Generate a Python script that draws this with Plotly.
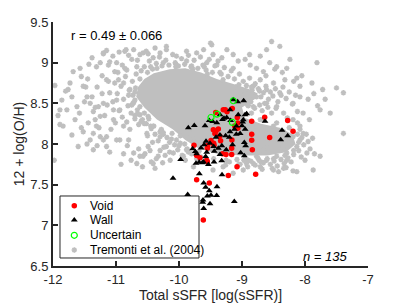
import plotly.graph_objects as go

# ---- Void galaxies (red filled circles) ----
void_x = [-9.614, -9.519, -9.720, -9.217, -8.783, -9.079, -9.550, -9.560, -9.667, -9.720,
          -9.762, -9.545, -9.550, -9.444, -9.492, -9.450, -9.164, -9.164, -9.254, -9.354,
          -9.376, -9.413, -9.455, -9.417, -9.297, -9.238, -9.154, -9.075, -9.068, -9.116,
          -9.068, -8.846, -8.640, -8.846, -8.846, -8.836, -8.561, -8.275, -8.190, -9.265,
          -9.430, -9.340, -9.310, -9.160]
void_y = [7.067, 7.522, 7.559, 7.612, 7.629, 7.719, 7.781, 7.800, 7.830, 7.859,
          7.986, 7.982, 7.949, 7.986, 8.042, 8.010, 7.949, 7.870, 7.870, 8.097,
          8.183, 8.158, 8.174, 8.387, 8.420, 8.396, 8.436, 8.326, 8.257, 8.220,
          8.195, 8.281, 8.330, 8.121, 8.047, 7.928, 8.080, 8.290, 8.158, 8.420,
          8.130, 8.040, 7.880, 8.050]

# ---- Wall galaxies (black triangles) ----
wall_x = [-10.095, -9.974, -9.852, -9.757, -9.783, -9.741, -9.720, -9.730, -9.680, -9.630,
          -9.577, -9.677, -9.608, -9.577, -9.519, -9.492, -9.550, -9.402, -9.397, -9.619,
          -9.624, -9.608, -9.508, -9.862, -9.122, -9.317, -9.323, -9.444, -9.534, -9.587,
          -9.466, -9.349, -9.286, -9.243, -9.190, -9.138, -9.069, -8.974, -8.952, -8.926,
          -8.979, -8.990, -9.000, -9.090, -9.090, -9.030, -8.950, -9.190, -9.201, -9.260,
          -9.350, -9.413, -9.508, -9.571, -9.600, -9.650, -9.450, -9.376, -9.320, -9.250,
          -9.350, -9.440, -9.150, -9.021, -8.963, -8.942, -8.963, -8.635, -8.365, -8.386,
          -8.275, -9.310, -9.520, -9.400, -9.180, -9.060, -9.120, -9.560, -9.610]
wall_y = [7.580, 7.809, 8.199, 8.228, 7.941, 7.908, 7.880, 7.764, 7.775, 7.770,
          7.846, 7.633, 7.522, 7.469, 7.424, 7.370, 7.362, 7.366, 7.473, 7.313,
          7.284, 7.206, 7.264, 7.378, 7.292, 7.621, 7.793, 7.780, 7.748, 8.224,
          8.277, 8.359, 8.318, 8.326, 8.420, 8.544, 8.519, 8.532, 8.359, 8.371,
          8.298, 8.270, 8.224, 8.220, 8.121, 8.130, 8.180, 8.150, 8.084, 8.100,
          8.110, 8.084, 8.010, 8.035, 7.990, 7.950, 7.970, 7.949, 7.980, 7.930,
          7.870, 7.910, 7.990, 7.892, 7.855, 7.978, 8.019, 8.281, 8.170, 8.051,
          8.101, 8.300, 8.290, 8.260, 8.290, 8.360, 8.180, 7.900, 7.780]

# ---- Uncertain (green open circles) ----
unc_x = [-9.492, -9.397, -9.153, -9.138]
unc_y = [8.326, 8.367, 8.265, 8.532]

# ---- Tremonti et al. (2004): outline of the dense core ----
core_x = [-10.65, -10.55, -10.40, -10.15, -9.90, -9.65, -9.40, -9.15, -8.90, -8.75,
          -8.80, -9.00, -8.95, -8.70, -8.40, -8.20, -8.15, -8.30, -8.60, -9.00,
          -9.40, -9.70, -9.90, -10.10, -10.35, -10.55, -10.68]
core_y = [8.70, 8.80, 8.87, 8.92, 8.93, 8.88, 8.80, 8.74, 8.68, 8.62,
          8.55, 8.45, 8.32, 8.25, 8.20, 8.12, 8.00, 7.90, 7.86, 7.86,
          7.88, 7.95, 8.05, 8.18, 8.30, 8.45, 8.58]

# ---- Tremonti et al. (2004): individual points around the core ----
gray_x = [-11.97, -11.86, -11.89, -11.98, -11.76, -11.73, -11.57, -11.55, -11.48, -11.46,
          -11.41, -11.36, -11.31, -11.25, -11.41, -11.60, -11.65, -11.52, -11.25, -11.20,
          -11.31, -11.62, -11.78, -11.70, -11.36, -11.68, -11.43, -11.20, -11.12, -10.99,
          -10.84, -10.49, -10.20, -9.48, -11.52, -11.28, -11.33, -11.15, -11.89, -11.84,
          -11.36, -10.94, -10.62,
          -11.10, -11.02, -10.96, -10.86, -10.83, -10.75, -10.67, -10.62, -10.57, -10.41,
          -11.10, -10.99, -10.94, -11.04, -10.88, -10.80, -10.72, -10.67, -10.57, -10.49,
          -10.41, -10.33, -10.78, -10.70, -10.62, -10.49, -10.41, -10.30, -10.20, -10.09,
          -10.51, -10.99, -11.15, -10.88, -11.15, -11.20,
          -10.30, -10.20, -10.04, -9.88, -9.72, -9.61, -9.50, -9.46, -9.32, -9.24,
          -9.14, -9.06, -9.40, -9.14, -8.95, -8.87, -9.88, -9.56, -10.45, -10.25,
          -10.05, -9.80, -9.60, -9.35,
          -8.61, -8.53, -8.40, -8.71, -8.56, -8.66, -8.45, -8.29, -8.24, -8.13,
          -8.32, -8.50, -8.71, -8.82, -8.61, -8.40, -8.08, -7.81, -7.89, -7.72,
          -7.50, -7.39, -8.19, -8.45, -8.61, -8.34, -8.03, -7.76, -7.39, -8.82,
          -8.77, -8.93, -8.08,
          -8.77, -8.61, -8.50, -8.45, -8.34, -8.24, -8.19, -8.13, -8.08, -8.03,
          -8.29, -8.45, -8.66, -8.61, -8.50, -8.34, -8.19, -8.13, -7.87, -8.77,
          -8.82, -8.71, -8.93, -8.98, -9.14, -9.30, -9.46, -7.97, -7.76, -8.29,
          -8.61, -8.82, -8.71, -8.93, -8.19, -8.08, -8.34,
          -9.98, -9.88, -9.93, -9.77, -10.14, -10.04, -9.88, -10.25, -10.15, -9.70,
          -10.70, -10.60, -10.45, -10.30, -10.75, -10.80, -9.60, -9.05, -8.90, -8.70,
          # left of core
          -10.98, -10.92, -10.88, -10.85, -10.81, -10.79, -10.76, -10.74, -10.72, -10.70,
          -10.68, -10.66, -10.64, -10.62, -10.60, -10.95, -10.90, -10.86, -10.83, -10.78,
          -11.02, -11.05, -10.97, -10.73, -10.69, -10.58, -10.55, -10.52, -10.48, -10.44,
          # top band
          -10.55, -10.47, -10.42, -10.36, -10.31, -10.27, -10.21, -10.16, -10.10, -10.06,
          -10.01, -9.96, -9.91, -9.85, -9.81, -9.76, -9.70, -9.66, -9.62, -9.57,
          -9.52, -9.47, -9.43, -9.38, -9.33, -9.28, -9.22, -9.17, -9.12, -9.04,
          # right of core top
          -8.98, -8.93, -8.88, -8.84, -8.79, -8.74, -8.70, -8.66, -8.62, -8.58,
          -8.55, -8.51, -8.47, -8.43, -8.38, -8.72, -8.68, -8.64, -8.80, -8.86,
          -8.91, -8.95, -8.59, -8.53, -8.46, -8.35, -8.30, -8.25, -8.20, -8.15,
          # lower right lobe edges
          -8.12, -8.08, -8.05, -8.02, -7.98, -7.95, -7.92, -7.88, -8.10, -8.06,
          -8.18, -8.22, -8.27, -8.33, -8.38, -8.44, -8.49, -8.55, -8.60, -8.66,
          -8.73, -8.79, -8.86, -8.91, -8.97, -9.03, -9.08, -9.20, -9.26, -8.52,
          -8.42, -8.68, -8.30, -8.00, -7.85,
          # below-left of core
          -10.38, -10.33, -10.28, -10.24, -10.19, -10.15, -10.11, -10.07, -10.02, -9.98,
          -9.95, -9.91, -9.87, -9.84, -9.80, -9.76, -10.22, -10.30, -10.36, -10.42,
          -10.46, -10.50, -9.72, -9.68, -9.90,
          # far right upper
          -8.36, -8.18, -8.05, -7.95, -7.86, -7.80, -7.68, -7.60, -8.12, -8.28,
          -7.93, -8.48, -8.62, -8.77, -8.88,
          # upper left
          -11.38, -11.25, -11.15, -11.05, -10.95, -10.90, -10.80, -10.72, -10.66, -10.52,
          -10.38, -11.45, -11.30, -11.22, -11.12,
          # left middle
          -11.58, -11.50, -11.44, -11.38, -11.33, -11.27, -11.22, -11.18, -11.14, -11.08,
          -11.04, -11.01, -11.46, -11.30, -11.20, -11.10, -11.55, -11.70, -11.80, -11.92,
          # lower left
          -10.88, -10.82, -10.76, -10.64, -10.58, -10.54, -10.44, -10.38, -10.26, -10.92,
          # ragged edge of the core
          -10.50, -10.35, -10.05, -9.78, -9.55, -9.30, -9.05, -8.85, -10.62, -10.70,
          -10.73, -10.66, -10.55, -10.40, -10.25, -10.12, -10.00, -9.85, -9.65, -9.45,
          -9.25, -8.95, -8.75, -8.50, -8.32, -8.18, -8.10, -8.12, -8.25, -8.45,
          -8.65, -8.85, -8.90, -8.82, -8.72, -8.95, -9.10]
gray_y = [8.72, 8.54, 8.24, 7.80, 8.67, 8.75, 8.93, 8.83, 8.70, 8.58,
          8.50, 8.40, 8.22, 8.09, 8.05, 7.97, 8.30, 8.15, 8.34, 9.12,
          8.95, 8.46, 8.42, 8.11, 8.13, 8.89, 8.98, 9.11, 8.97, 9.00,
          9.16, 9.11, 9.20, 9.22, 8.71, 8.46, 8.30, 8.09, 8.42, 8.22,
          7.93, 8.05, 7.85,
          9.01, 8.89, 8.79, 9.14, 8.91, 9.04, 8.95, 9.10, 9.12, 9.06,
          8.63, 8.54, 8.42, 8.30, 8.22, 8.05, 7.89, 7.76, 7.85, 7.97,
          7.76, 7.85, 8.67, 8.54, 8.46, 8.34, 8.22, 8.09, 7.97, 7.89,
          8.13, 8.05, 7.97, 8.75, 8.79, 8.50,
          9.12, 9.16, 9.08, 9.14, 9.12, 9.16, 9.24, 9.10, 9.06, 9.16,
          9.10, 9.02, 8.97, 8.93, 9.04, 8.97, 9.02, 9.00, 8.95, 9.00,
          8.98, 8.96, 8.95, 8.88,
          9.16, 9.26, 9.20, 9.08, 9.00, 8.89, 8.95, 8.93, 9.04, 8.81,
          8.79, 8.75, 8.79, 8.71, 8.67, 8.63, 8.58, 9.00, 8.75, 8.67,
          8.69, 8.63, 8.50, 8.46, 8.50, 8.38, 8.38, 8.42, 8.13, 8.46,
          8.58, 8.54, 8.71,
          8.22, 8.13, 8.22, 8.05, 7.97, 8.01, 8.09, 7.97, 8.05, 8.13,
          7.89, 7.85, 7.93, 7.80, 7.68, 7.70, 7.67, 7.66, 7.68, 7.85,
          7.76, 7.72, 7.76, 7.68, 7.64, 7.72, 7.68, 7.89, 7.85, 7.80,
          8.01, 8.01, 8.30, 8.22, 8.30, 8.22, 8.15,
          8.01, 7.93, 7.85, 7.72, 7.80, 8.05, 8.09, 8.12, 8.02, 7.84,
          8.35, 8.28, 8.22, 8.15, 8.48, 8.60, 7.80, 7.75, 7.80, 7.78,
          # left of core
          8.62, 8.71, 8.55, 8.83, 8.47, 8.66, 8.38, 8.77, 8.51, 8.31,
          8.86, 8.42, 8.24, 8.36, 8.90, 8.41, 8.33, 8.93, 8.27, 8.18,
          8.75, 8.52, 8.88, 8.60, 8.69, 8.30, 8.38, 8.25, 8.31, 8.19,
          # top band
          8.95, 9.02, 8.92, 8.99, 9.07, 8.96, 9.03, 8.97, 9.10, 9.00,
          8.96, 9.05, 8.98, 9.09, 8.95, 9.03, 8.93, 9.07, 8.97, 8.91,
          9.04, 8.88, 8.96, 9.02, 8.86, 8.94, 8.83, 8.90, 8.80, 8.86,
          # right of core top
          8.77, 8.72, 8.81, 8.66, 8.74, 8.68, 8.58, 8.63, 8.71, 8.55,
          8.64, 8.59, 8.68, 8.52, 8.60, 8.48, 8.41, 8.50, 8.44, 8.52,
          8.48, 8.56, 8.45, 8.38, 8.44, 8.70, 8.56, 8.64, 8.49, 8.60,
          # lower right lobe edges
          8.26, 8.18, 8.08, 7.99, 8.12, 8.03, 7.94, 8.07, 7.92, 7.84,
          7.87, 7.78, 7.83, 7.76, 7.81, 7.73, 7.79, 7.75, 7.82, 7.77,
          7.80, 7.74, 7.79, 7.72, 7.80, 7.75, 7.81, 7.78, 7.74, 7.70,
          7.66, 7.69, 7.71, 7.80, 7.88,
          # below-left of core
          8.12, 8.04, 8.18, 7.96, 8.08, 7.90, 8.13, 7.99, 7.93, 8.10,
          7.86, 8.00, 7.94, 8.14, 7.88, 8.06, 7.86, 7.92, 7.82, 8.02,
          7.92, 8.10, 7.82, 7.91, 7.80,
          # far right upper
          8.88, 8.77, 8.84, 8.55, 8.62, 8.47, 8.55, 8.38, 8.40, 8.32,
          8.30, 8.92, 8.84, 8.93, 9.10,
          # upper left
          9.06, 9.00, 9.15, 9.08, 9.13, 8.97, 9.09, 9.16, 9.03, 9.14,
          9.18, 8.80, 8.70, 8.84, 8.77,
          # left middle
          8.38, 8.52, 8.26, 8.58, 8.45, 8.20, 8.62, 8.35, 8.48, 8.18,
          8.42, 8.26, 8.00, 7.98, 8.05, 7.90, 8.20, 8.58, 8.65, 8.35,
          # lower left
          7.88, 7.98, 7.80, 7.94, 7.72, 7.88, 7.78, 7.70, 7.77, 7.75,
          # ragged edge of the core
          8.88, 8.93, 8.95, 8.92, 8.86, 8.79, 8.73, 8.70, 8.80, 8.64,
          8.50, 8.37, 8.25, 8.22, 8.14, 8.06, 7.98, 7.90, 7.84, 7.82,
          7.80, 7.82, 7.83, 7.82, 7.86, 7.92, 8.02, 8.12, 8.20, 8.26,
          8.31, 8.38, 8.47, 8.58, 8.65, 8.62, 8.70]

# ---- Tick labels / texts ----
x_ticks = [-12, -11, -10, -9, -8, -7]
x_tick_text = ["-12", "-11", "-10", "-9", "-8", "-7"]
y_ticks = [6.5, 7, 7.5, 8, 8.5, 9, 9.5]
y_tick_text = ["6.5", "7", "7.5", "8", "8.5", "9", "9.5"]
legend_names = ["Void", "Wall", "Uncertain", "Tremonti et al. (2004)"]

AX = "#262626"
GRAY = "#bfbfbf"
FONT = "Liberation Sans, Arial, sans-serif"

fig = go.Figure()

fig.add_trace(go.Scatter(x=core_x, y=core_y, mode="none", fill="toself",
                         fillcolor=GRAY, hoverinfo="skip", showlegend=False))
fig.add_trace(go.Scatter(x=gray_x, y=gray_y, mode="markers", showlegend=False,
                         marker=dict(symbol="asterisk-open", size=4.5, color=GRAY,
                                     line=dict(width=1.5, color=GRAY))))
fig.add_trace(go.Scatter(x=void_x, y=void_y, mode="markers", showlegend=False,
                         marker=dict(symbol="circle", size=5.5, color="#ff0000", line=dict(width=0))))
fig.add_trace(go.Scatter(x=wall_x, y=wall_y, mode="markers", showlegend=False,
                         marker=dict(symbol="triangle-up", size=6, color="#000000", line=dict(width=0))))
fig.add_trace(go.Scatter(x=unc_x, y=unc_y, mode="markers", showlegend=False,
                         marker=dict(symbol="circle-open", size=6, color="#00ff00", line=dict(width=1.2))))

# ---- manual legend (keys on an overlay paper-like axis) ----
key_x = [0.0676] * 4
key_y = [0.2471, 0.1885, 0.1258, 0.0656]
key_sym = ["circle", "triangle-up", "circle-open", "asterisk-open"]
key_col = ["#ff0000", "#000000", "#00ff00", GRAY]
key_size = [5.5, 6, 6, 4.5]
key_lw = [0, 0, 1.2, 1.5]
for kx, ky, s, c, sz, lw in zip(key_x, key_y, key_sym, key_col, key_size, key_lw):
    fig.add_trace(go.Scatter(x=[kx], y=[ky], xaxis="x2", yaxis="y2", mode="markers",
                             showlegend=False, hoverinfo="skip",
                             marker=dict(symbol=s, size=sz, color=c, line=dict(width=lw, color=c))))

fig.add_shape(type="rect", xref="paper", yref="paper", x0=0.0222, x1=0.4635, y0=0.0328, y1=0.2869,
              line=dict(color=AX, width=1), fillcolor="white", layer="below")

for name, ky in zip(legend_names, key_y):
    fig.add_annotation(x=0.110, y=ky, xref="paper", yref="paper", text=name, showarrow=False,
                       xanchor="left", yanchor="middle", font=dict(size=12, color="#000000", family=FONT))

fig.add_annotation(x=-11.75, y=9.33, xref="x", yref="y", text="r = 0.49 ± 0.066", showarrow=False,
                   xanchor="left", yanchor="middle", font=dict(size=13, color="#000000", family=FONT))
fig.add_annotation(x=-7.29, y=6.62, xref="x", yref="y", text="<i>n = 135</i>", showarrow=False,
                   xanchor="right", yanchor="middle", font=dict(size=13, color="#000000", family=FONT))

fig.update_layout(
    width=407, height=305,
    margin=dict(l=53, r=39, t=22, b=39),
    paper_bgcolor="white", plot_bgcolor="white",
    font=dict(family=FONT, color=AX),
    showlegend=False,
    xaxis=dict(range=[-12, -7], tickvals=x_ticks, ticktext=x_tick_text, ticks="inside",
               ticklen=5, tickwidth=2, tickcolor=AX, showline=True, linecolor=AX, linewidth=2,
               showgrid=False, zeroline=False, tickfont=dict(size=13, color=AX),
               title=dict(text="Total sSFR [log(sSFR)]", font=dict(size=14, color=AX), standoff=4),
               automargin=False),
    yaxis=dict(range=[6.5, 9.5], tickvals=y_ticks, ticktext=y_tick_text, ticks="inside",
               ticklen=5, tickwidth=2, tickcolor=AX, showline=True, linecolor=AX, linewidth=2,
               showgrid=False, zeroline=False, tickfont=dict(size=13, color=AX),
               title=dict(text="12 + log(O/H)", font=dict(size=14, color=AX), standoff=2),
               automargin=False),
    xaxis2=dict(overlaying="x", range=[0, 1], visible=False),
    yaxis2=dict(overlaying="y", range=[0, 1], visible=False),
)

fig.write_html("out.html", config={"displayModeBar": False},
               post_script="document.body.style.margin='0px';")
